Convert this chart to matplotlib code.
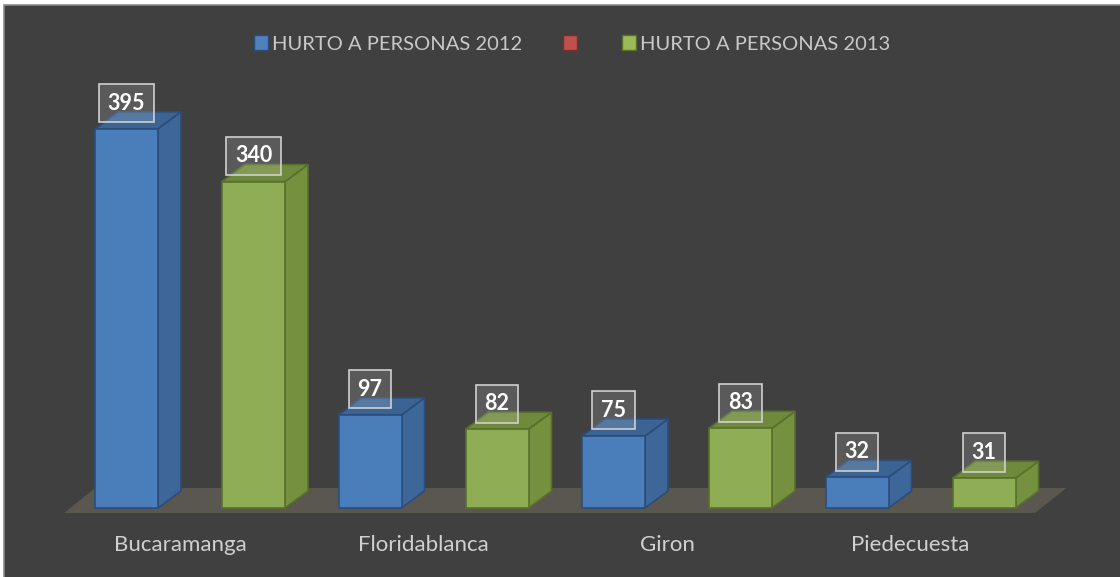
import matplotlib
matplotlib.use("Agg")
import matplotlib.pyplot as plt
from matplotlib.patches import Polygon, Rectangle, Patch

categories = ["Bucaramanga", "Floridablanca", "Giron", "Piedecuesta"]
series_names = ["HURTO A PERSONAS 2012", "", "HURTO A PERSONAS 2013"]
hurto_2012 = [395, 97, 75, 32]
hurto_2013 = [340, 82, 83, 31]

W, H = 1120, 577
fig = plt.figure(figsize=(W / 100, H / 100), dpi=100, facecolor="white")
# dark chart area with thin border
fig.patches.append(Rectangle((4 / W, -0.01), 1.02, (H - 5) / H + 0.01,
                             transform=fig.transFigure, facecolor="#404040",
                             edgecolor="#8a8a8a", linewidth=1.2, zorder=-5))

ax = fig.add_axes([0, 0, 1, 1])
ax.set_zorder(2)
ax.set_facecolor("none")
ax.patch.set_alpha(0)
px_per_cat = 243.5
px_per_val = 0.96
x0_px, y0_px = 190, 508
ax.set_xlim(-x0_px / px_per_cat, (W - x0_px) / px_per_cat)
ax.set_ylim((y0_px - H) / px_per_val, y0_px / px_per_val)
ax.axis("off")

# geometry (category units / value units)
bar_w = 63 / px_per_cat
off_blue = -95 / px_per_cat
off_green = 32 / px_per_cat
ddx = 23 / px_per_cat
ddy = 17 / px_per_val

# floor
fl = Polygon([(-0.517, -5.2), (3.47, -5.2), (3.6, 20.8), (-0.39, 20.8)],
             closed=True, facecolor="#5a5650", edgecolor="none", zorder=1)
ax.add_patch(fl)

styles = {
    "blue": dict(front="#4a7ebb", side="#3d6799", top="#3b6393", edge="#2c4d7a"),
    "green": dict(front="#8fad55", side="#75903f", top="#6f8a3c", edge="#58702c"),
}

def draw_bar(xl, v, st, z):
    xr = xl + bar_w
    front = Polygon([(xl, 0), (xr, 0), (xr, v), (xl, v)], closed=True,
                    facecolor=st["front"], edgecolor=st["edge"], lw=1.2, zorder=z)
    side = Polygon([(xr, 0), (xr + ddx, ddy), (xr + ddx, v + ddy), (xr, v)], closed=True,
                   facecolor=st["side"], edgecolor=st["edge"], lw=1.2, zorder=z)
    top = Polygon([(xl, v), (xr, v), (xr + ddx, v + ddy), (xl + ddx, v + ddy)], closed=True,
                  facecolor=st["top"], edgecolor=st["edge"], lw=1.2, zorder=z)
    for p in (side, top, front):
        ax.add_patch(p)
    ax.text(xl + bar_w / 2, v + ddy + 9, f"{v}", ha="center", va="center",
            fontsize=15.5, fontweight="bold", color="white", family=["Lato", "DejaVu Sans"],
            zorder=z + 1,
            bbox=dict(boxstyle="square,pad=0.4", facecolor=(1, 1, 1, 0.14),
                      edgecolor="#d0d0d0", linewidth=1.2))

for i, cat in enumerate(categories):
    draw_bar(i + off_blue, hurto_2012[i], styles["blue"], 3 + i * 2)
    draw_bar(i + off_green, hurto_2013[i], styles["green"], 3 + i * 2)
    ax.text(i - 10 / px_per_cat, (y0_px - 545) / px_per_val, cat, ha="center", va="center",
            fontsize=16, color="#d0d0d0", family=["Lato", "DejaVu Sans"])

handles = [Patch(facecolor="#4f81bd", edgecolor="#2c4d7a", label=series_names[0]),
           Patch(facecolor="#c0504d", edgecolor="#7a2e2c", label=series_names[1]),
           Patch(facecolor="#9bbb59", edgecolor="#58702c", label=series_names[2])]
leg = fig.legend(handles=handles, loc="center", bbox_to_anchor=(572 / W, 1 - 44 / H), ncol=3,
                 frameon=False, handlelength=0.72, handleheight=0.72, handletextpad=0.2,
                 columnspacing=2.0, prop=dict(family=["Lato", "DejaVu Sans"], size=14.5))
for t in leg.get_texts():
    t.set_color("#c8c8c8")

fig.savefig("out.png", dpi=100, facecolor="white")
